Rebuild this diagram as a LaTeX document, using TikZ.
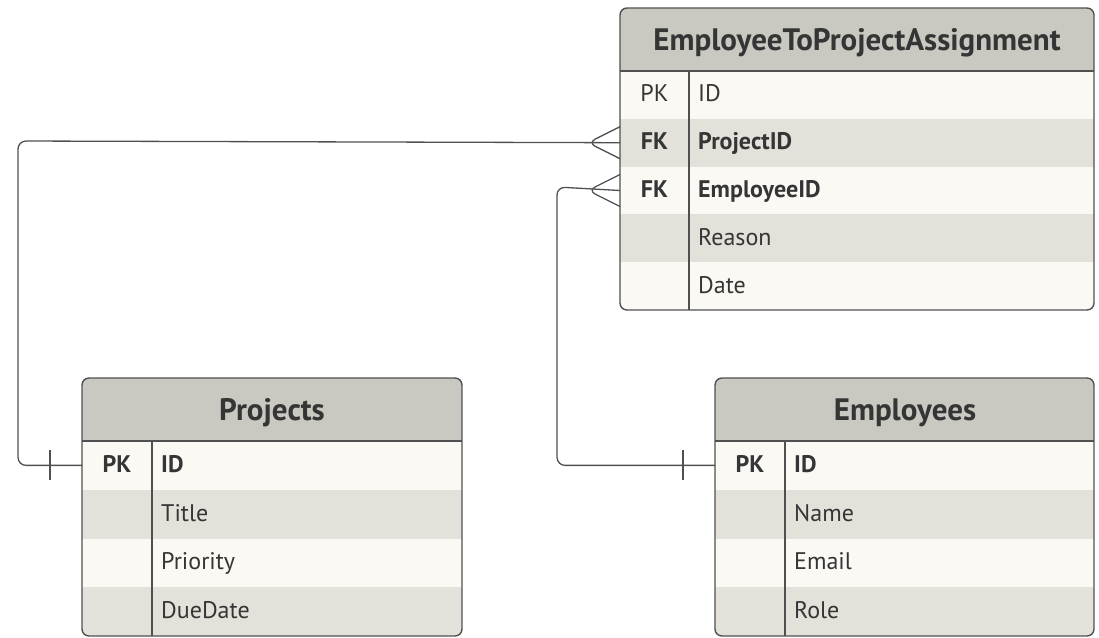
\documentclass[tikz,border=0pt]{standalone}
\usepackage{fontspec}
\setmainfont{PT Sans}
\usetikzlibrary{positioning}

\definecolor{hdrgray}{HTML}{C9C8C1}
\definecolor{rowlight}{HTML}{FBF9F3}
\definecolor{rowdark}{HTML}{E3E1DA}
\definecolor{framegray}{HTML}{505050}
\definecolor{inkgray}{HTML}{353535}

\tikzset{
  frame/.style={draw=framegray, line width=1.4pt, rounded corners=7pt},
  rule/.style={draw=framegray, line width=1.1pt},
  link/.style={draw=framegray, line width=1.3pt, rounded corners=8pt},
  ttitle/.style={font=\fontsize{31}{36}\selectfont\bfseries, text=inkgray, inner sep=0pt},
  keycell/.style 2 args={font=\fontsize{24}{28}\selectfont, text=inkgray,
    inner sep=0pt, outer sep=0pt, anchor=north west,
    minimum width=#1, minimum height=#2, text height=0.7em+7pt, text depth=0pt},
  fieldtext/.style={font=\fontsize{24}{28}\selectfont, text=inkgray,
    inner sep=0pt, anchor=west, text height=0.7em+7pt, text depth=0pt},
}

\begin{document}
\begin{tikzpicture}[x=1pt,y=-1pt]
  \useasboundingbox (0,0) rectangle (1099,637);

  % EmployeeToProjectAssignment
  \begin{scope}
    \clip[rounded corners=7pt] (620,8) rectangle (1094,310);
    \fill[hdrgray] (620,8) rectangle (1094,71);
    \foreach \i/\k/\f/\w in {1/PK/ID/\mdseries, 2/FK/ProjectID/\bfseries,
        3/FK/EmployeeID/\bfseries, 4//Reason/\mdseries, 5//Date/\mdseries}{
      \pgfmathsetmacro\rowtop{71+(\i-1)*47.8}
      \ifodd\i \def\rowcol{rowlight}\else \def\rowcol{rowdark}\fi
      \fill[\rowcol] (620,\rowtop) rectangle (1094,\rowtop+47.8);
      \node[keycell={69pt}{47.8pt}] (assign-k\i) at (620,\rowtop) {\w\k};
      \node[fieldtext] (assign-f\i) at (698,\rowtop+23.9) {\w\f};
    }
  \end{scope}
  \node[ttitle] (assign) at (857,43) {EmployeeToProjectAssignment};
  \draw[frame] (620,8) rectangle (1094,310);
  \draw[rule] (620,71) -- (1094,71);
  \draw[rule] (689,71) -- (689,310);

  % Projects
  \begin{scope}
    \clip[rounded corners=7pt] (82,378) rectangle (462,636);
    \fill[hdrgray] (82,378) rectangle (462,441);
    \foreach \i/\k/\f/\w in {1/PK/ID/\bfseries, 2//Title/\mdseries,
        3//Priority/\mdseries, 4//DueDate/\mdseries}{
      \pgfmathsetmacro\rowtop{441+(\i-1)*48.75}
      \ifodd\i \def\rowcol{rowlight}\else \def\rowcol{rowdark}\fi
      \fill[\rowcol] (82,\rowtop) rectangle (462,\rowtop+48.75);
      \node[keycell={70pt}{48.75pt}] (proj-k\i) at (82,\rowtop) {\w\k};
      \node[fieldtext] (proj-f\i) at (161,\rowtop+24.4) {\w\f};
    }
  \end{scope}
  \node[ttitle] (proj) at (272,413) {Projects};
  \draw[frame] (82,378) rectangle (462,636);
  \draw[rule] (82,441) -- (462,441);
  \draw[rule] (152,441) -- (152,636);

  % Employees
  \begin{scope}
    \clip[rounded corners=7pt] (715,378) rectangle (1094,636);
    \fill[hdrgray] (715,378) rectangle (1094,441);
    \foreach \i/\k/\f/\w in {1/PK/ID/\bfseries, 2//Name/\mdseries,
        3//Email/\mdseries, 4//Role/\mdseries}{
      \pgfmathsetmacro\rowtop{441+(\i-1)*48.75}
      \ifodd\i \def\rowcol{rowlight}\else \def\rowcol{rowdark}\fi
      \fill[\rowcol] (715,\rowtop) rectangle (1094,\rowtop+48.75);
      \node[keycell={70pt}{48.75pt}] (emp-k\i) at (715,\rowtop) {\w\k};
      \node[fieldtext] (emp-f\i) at (794,\rowtop+24.4) {\w\f};
    }
  \end{scope}
  \node[ttitle] (emp) at (905,413) {Employees};
  \draw[frame] (715,378) rectangle (1094,636);
  \draw[rule] (715,441) -- (1094,441);
  \draw[rule] (785,441) -- (785,636);

  % relationships
  \coordinate (bendP) at (18,141);
  \coordinate (bendE) at (557,187);
  \draw[link] (assign-k2.west) -- (bendP) |- (proj-k1.west);
  \draw[link] (assign-k3.west) -- (bendE) |- (emp-k1.west);

  % crow's feet
  \draw[link] ([yshift=16pt]assign-k2.west) -- ([xshift=-32pt]assign-k2.west)
    -- ([yshift=-16pt]assign-k2.west);
  \draw[link] ([yshift=16pt]assign-k3.west) -- ([xshift=-32pt]assign-k3.west)
    -- ([yshift=-16pt]assign-k3.west);

  % one bars
  \draw[link] ([xshift=-32pt,yshift=15pt]proj-k1.west) -- ([xshift=-32pt,yshift=-15pt]proj-k1.west);
  \draw[link] ([xshift=-32pt,yshift=15pt]emp-k1.west) -- ([xshift=-32pt,yshift=-15pt]emp-k1.west);
\end{tikzpicture}
\end{document}
